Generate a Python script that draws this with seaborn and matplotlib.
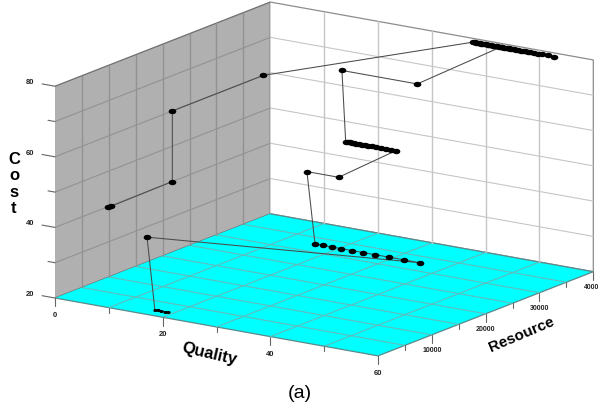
import matplotlib
matplotlib.use("Agg")
import matplotlib.pyplot as plt
import seaborn as sns
import pandas as pd
from matplotlib.markers import MarkerStyle
from matplotlib.transforms import Affine2D
from mpl_toolkits.mplot3d import proj3d

sns.set_theme(style="white")
plt.rcParams['font.family'] = ['Liberation Sans', 'DejaVu Sans']

# ---- data -----------------------------------------------------------------
quality = [0, 0.25, 0, 0, 0,
           38.9, 39.2, 39.5, 39.8, 40.1, 40.4, 40.7, 41.0, 41.3, 41.6, 41.9, 42.2, 42.5, 42.8, 43.1, 43.4,
           43.7, 44.0, 44.3, 44.6, 44.9, 45.2, 45.5, 45.8, 46.1, 46.5, 46.9, 47.3, 47.7, 48.1, 48.5,
           49.0, 49.5, 50.2, 50.9, 51.7, 52.7, 53.9, 44.0,
           45.4, 31.4,
           32.1, 32.5, 32.9, 33.3, 33.7, 34.1, 34.6, 35.1, 35.6, 36.2, 36.9, 37.7, 38.6, 39.6, 40.5, 41.4,
           19.8, 13.9,
           15.5, 17.0, 18.6, 20.3, 22.4, 24.4, 26.6, 29.2, 32.0, 35.0,
           14.9,
           16.6, 17.2, 17.8, 18.4, 19.0]
resource = [9900, 10100, 21800, 21800, 38700] + [38800] * 39 + [21900] * 18 + [32900] * 2 + [32800] * 10 + [2200] + [1950] * 5
cost = [40, 40, 40, 60, 60] + [80] * 41 + [60] * 16 + [40] * 2 + [20] * 10 + [40] + [20] * 5
df = pd.DataFrame({"Quality": quality, "Resource": resource, "Cost": cost})

quality_ticks = [0, 10, 20, 30, 40, 50, 60]
quality_labels = ["0", "", "20", "", "40", "", "60"]
resource_ticks = [0, 5000, 10000, 15000, 20000, 25000, 30000, 35000, 40000]
resource_labels = ["", "", "10000", "", "20000", "", "30000", "", "40000"]
cost_ticks = [20, 30, 40, 50, 60, 70, 80]
cost_labels = ["20", "", "40", "", "60", "", "80"]

# ---- figure / projection --------------------------------------------------
W, H = 598, 410
fig = plt.figure(figsize=(W / 100, H / 100), dpi=100, facecolor="white")
S = 1000.0
ax = fig.add_axes([0, 0, S / W, S / H], projection="3d", proj_type="ortho", computed_zorder=False)
ax.patch.set_alpha(0)
ax.view_init(elev=15.35, azim=-55.9)
ASPECT = (389, 383, 219)
ax.set_box_aspect(ASPECT)
ax.set_xlim(0, 60)
ax.set_ylim(0, 40000)
ax.set_zlim(20, 80)
ax.set_xticks(quality_ticks)
ax.set_yticks(resource_ticks)
ax.set_zticks(cost_ticks)
ax.set_xticklabels([])
ax.set_yticklabels([])
ax.set_zticklabels([])
ax.tick_params(axis="both", color=(0, 0, 0, 0), length=0)


def to_px(x, y, z):
    a, b, _ = proj3d.proj_transform(x, y, z, ax.get_proj())
    return ax.transData.transform((a, b))


# fit the box to the reference: front-left corner and front-right corner of the floor
TARGET_O = (55.0, H - 299.0)
TARGET_X = (378.0, H - 357.0)
fig.canvas.draw()
p0, p1 = to_px(0, 0, 20), to_px(60, 0, 20)
zoom = (TARGET_X[0] - TARGET_O[0]) / (p1[0] - p0[0])
ax.set_box_aspect(ASPECT, zoom=zoom)
fig.canvas.draw()
p0 = to_px(0, 0, 20)
pos = ax.get_position(original=True)
ax.set_position([pos.x0 + (TARGET_O[0] - p0[0]) / W, pos.y0 + (TARGET_O[1] - p0[1]) / H, pos.width, pos.height])
fig.canvas.draw()

# panes
ax.grid(False)
for axis, col, edge in ((ax.xaxis, "#b0b0b0", "#6e6e6e"), (ax.yaxis, "#ffffff", "#8c8c8c"), (ax.zaxis, "#00ffff", "#5a8a8a")):
    axis.set_pane_color(col)
    axis.pane.set_edgecolor(edge)
    axis.pane.set_linewidth(0.9)
    axis.line.set_color((0, 0, 0, 0))
    axis._axinfo["tick"].update(inward_factor=0, outward_factor=0)

# grid, one colour per surface
GRID_LEFT, GRID_BACK, GRID_FLOOR = "#929292", "#c6c6c6", "#62bcbc"
for v in quality_ticks[1:-1]:
    ax.plot([v, v], [0, 40000], [20, 20], color=GRID_FLOOR, lw=0.8, zorder=1)
    ax.plot([v, v], [40000, 40000], [20, 80], color=GRID_BACK, lw=1.0, zorder=1)
for v in resource_ticks[1:-1]:
    ax.plot([0, 60], [v, v], [20, 20], color=GRID_FLOOR, lw=0.8, zorder=1)
    ax.plot([0, 0], [v, v], [20, 80], color=GRID_LEFT, lw=1.0, zorder=1)
for v in cost_ticks[1:-1]:
    ax.plot([0, 0], [0, 40000], [v, v], color=GRID_LEFT, lw=0.8, zorder=1)
    ax.plot([0, 60], [40000, 40000], [v, v], color=GRID_BACK, lw=0.8, zorder=1)

# the search path
ax.plot(df["Quality"], df["Resource"], df["Cost"], color="#4a4a4a", lw=0.75, zorder=5)
oval = MarkerStyle("o", transform=Affine2D().scale(1.2, 0.85))
front = df.index >= len(df) - 5
ax.plot(df.loc[~front, "Quality"], df.loc[~front, "Resource"], df.loc[~front, "Cost"], ls="none",
        marker=oval, ms=4.6, mfc="black", mec="black", mew=0, zorder=6)
ax.plot(df.loc[front, "Quality"], df.loc[front, "Resource"], df.loc[front, "Cost"], ls="none",
        marker=oval, ms=2.6, mfc="black", mec="black", mew=0, zorder=6)

# tick stubs and tick labels
STUB = "#666666"
TICKFONT = dict(fontweight="bold", ha="center", va="center", color="#222222", zorder=7)
for v, lab in zip(quality_ticks, quality_labels):
    ax.plot([v, v], [0, 0], [20, 17.6 if lab else 18.6], color=STUB, lw=0.8, zorder=2)
    if lab:
        ax.text(v, 0, 15.3, lab, fontsize=5.5, rotation=-10, **TICKFONT)
for v, lab in zip(resource_ticks[1:], resource_labels[1:]):
    ax.plot([60, 60], [v, v], [20, 17.6 if lab else 18.6], color=STUB, lw=0.8, zorder=2)
    if lab:
        ax.text(60, v, 15.8, lab, fontsize=5, rotation=21, **TICKFONT)
for v, lab in zip(cost_ticks, cost_labels):
    ax.plot([0, -2.4 if lab else -1.3], [0, 0], [v, v], color=STUB, lw=0.8, zorder=2)
    if lab:
        ax.text(-4.6, 0, v, lab, fontsize=5.5, rotation=-10, **TICKFONT)


def ftext(px, py, s, **kw):
    fig.text(px / W, 1 - py / H, s, ha="center", va="center", **kw)


ftext(209, 354, "Quality", fontsize=12, fontweight="bold", rotation=-13, color="black")
ftext(522, 335, "Resource", fontsize=11, fontweight="bold", rotation=23, color="black")
ftext(14, 184, "C\no\ns\nt", fontsize=12, fontweight="bold", color="black", linespacing=1.1)
ftext(300, 394, "(a)", fontsize=14, color="black")

fig.savefig("out.png", dpi=100, facecolor="white")
